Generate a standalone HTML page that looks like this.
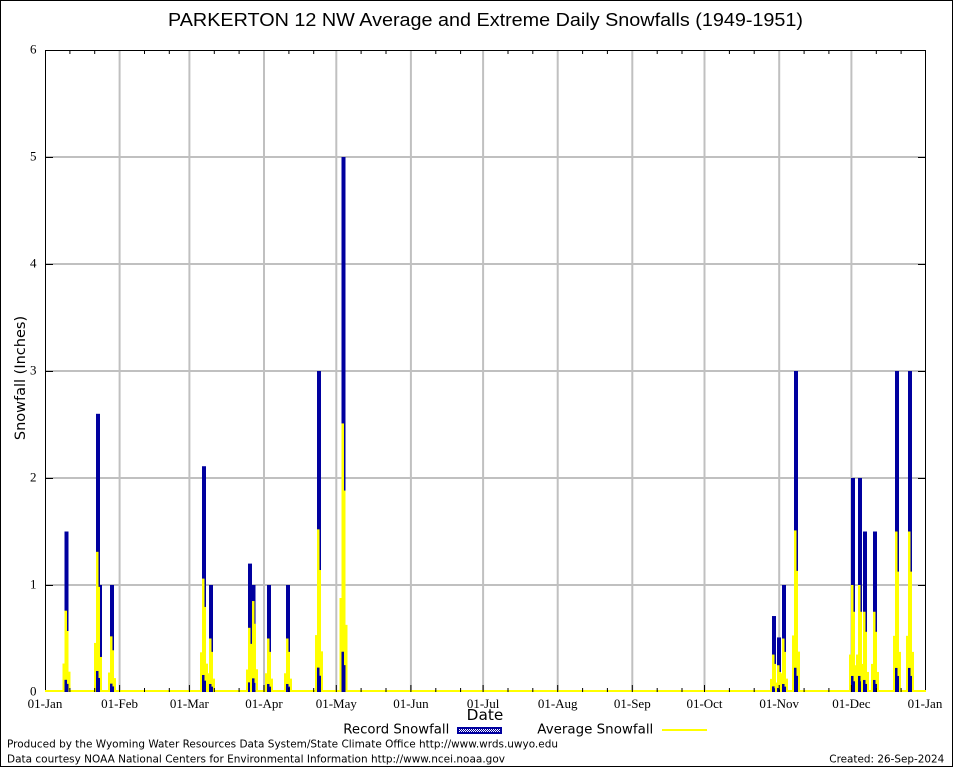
<!DOCTYPE html>
<html>
<head>
<meta charset="utf-8">
<style>
html,body{margin:0;padding:0;background:#fff;}
svg{display:block;}
.tk{font-family:"Liberation Serif","DejaVu Serif",serif;font-size:13px;fill:#000;}
.sn{font-family:"DejaVu Sans","Liberation Sans",sans-serif;fill:#000;}
</style>
</head>
<body>
<svg width="954" height="768" viewBox="0 0 954 768" xmlns="http://www.w3.org/2000/svg">
<defs>
  <pattern id="chk" width="2" height="2" patternUnits="userSpaceOnUse">
    <rect width="2" height="2" fill="#00009f"/>
    <rect width="1" height="1" fill="#fff"/>
    <rect x="1" y="1" width="1" height="1" fill="#fff"/>
  </pattern>
  <g id="yl">
    <rect x="-2" y="0" width="2" height="0.35"/>
    <rect x="0" y="0.15" width="2.5" height="0.85"/>
    <rect x="2.5" y="0.1" width="1.5" height="0.65"/>
    <rect x="4" y="0" width="2" height="0.25"/>
  </g>
</defs>

<rect x="0" y="0" width="954" height="768" fill="#fff"/>
<rect x="0.5" y="0.5" width="952" height="766" fill="none" stroke="#000" stroke-width="1"/>

<!-- title -->
<text x="168" y="26" font-family="Liberation Sans, Arial, sans-serif" font-size="18" textLength="635" lengthAdjust="spacingAndGlyphs">PARKERTON 12 NW Average and Extreme Daily Snowfalls (1949-1951)</text>

<!-- gridlines -->
<g fill="#c0c0c0">
  <rect x="118.6" y="50" width="2" height="642"/>
  <rect x="188.4" y="50" width="2" height="642"/>
  <rect x="263.0" y="50" width="2" height="642"/>
  <rect x="335.3" y="50" width="2" height="642"/>
  <rect x="409.9" y="50" width="2" height="642"/>
  <rect x="482.1" y="50" width="2" height="642"/>
  <rect x="556.7" y="50" width="2" height="642"/>
  <rect x="631.3" y="50" width="2" height="642"/>
  <rect x="703.5" y="50" width="2" height="642"/>
  <rect x="778.2" y="50" width="2" height="642"/>
  <rect x="850.4" y="50" width="2" height="642"/>
  <rect x="45" y="584" width="881" height="2"/>
  <rect x="45" y="477" width="881" height="2"/>
  <rect x="45" y="370" width="881" height="2"/>
  <rect x="45" y="263" width="881" height="2"/>
  <rect x="45" y="156" width="881" height="2"/>
</g>

<!-- frame -->
<rect x="45.5" y="50.5" width="880" height="641" fill="none" stroke="#000" stroke-width="1"/>

<!-- yellow zero baseline -->
<rect x="45" y="690" width="881" height="2" fill="#ff0"/>

<!-- bars -->
<g>
  <g transform="translate(64.5,692) scale(1,-107)"><rect width="4" height="1.5" fill="#00009f"/><use href="#yl" transform="scale(1,0.76)" fill="#ff0"/></g>
  <g transform="translate(96,692) scale(1,-107)"><rect width="4" height="2.6" fill="#00009f"/><rect x="4" width="2" height="1.0" fill="#00009f"/><use href="#yl" transform="scale(1,1.31)" fill="#ff0"/></g>
  <g transform="translate(110,692) scale(1,-107)"><rect width="4" height="1.0" fill="#00009f"/><use href="#yl" transform="scale(1,0.52)" fill="#ff0"/></g>
  <g transform="translate(202,692) scale(1,-107)"><rect width="4" height="2.11" fill="#00009f"/><use href="#yl" transform="scale(1,1.06)" fill="#ff0"/></g>
  <g transform="translate(209,692) scale(1,-107)"><rect width="4" height="1.0" fill="#00009f"/><use href="#yl" transform="scale(1,0.5)" fill="#ff0"/></g>
  <g transform="translate(248,692) scale(1,-107)"><rect width="4" height="1.2" fill="#00009f"/><use href="#yl" transform="scale(1,0.6)" fill="#ff0"/></g>
  <g transform="translate(252,692) scale(1,-107)"><rect width="3.5" height="1.0" fill="#00009f"/><use href="#yl" transform="scale(1,0.85)" fill="#ff0"/></g>
  <g transform="translate(267,692) scale(1,-107)"><rect width="4" height="1.0" fill="#00009f"/><use href="#yl" transform="scale(1,0.5)" fill="#ff0"/></g>
  <g transform="translate(286,692) scale(1,-107)"><rect width="4" height="1.0" fill="#00009f"/><use href="#yl" transform="scale(1,0.5)" fill="#ff0"/></g>
  <g transform="translate(317,692) scale(1,-107)"><rect width="4" height="3.0" fill="#00009f"/><use href="#yl" transform="scale(1,1.52)" fill="#ff0"/></g>
  <g transform="translate(341.5,692) scale(1,-107)"><rect width="4" height="5.0" fill="#00009f"/><use href="#yl" transform="scale(1,2.51)" fill="#ff0"/></g>
  <g transform="translate(772,692) scale(1,-107)"><rect width="4" height="0.71" fill="#00009f"/><use href="#yl" transform="scale(1,0.35)" fill="#ff0"/></g>
  <g transform="translate(777,692) scale(1,-107)"><rect width="4" height="0.51" fill="#00009f"/><use href="#yl" transform="scale(1,0.25)" fill="#ff0"/></g>
  <g transform="translate(782,692) scale(1,-107)"><rect width="4" height="1.0" fill="#00009f"/><use href="#yl" transform="scale(1,0.5)" fill="#ff0"/></g>
  <g transform="translate(794,692) scale(1,-107)"><rect width="4" height="3.0" fill="#00009f"/><use href="#yl" transform="scale(1,1.51)" fill="#ff0"/></g>
  <g transform="translate(851,692) scale(1,-107)"><rect width="4" height="2.0" fill="#00009f"/><use href="#yl" transform="scale(1,1.0)" fill="#ff0"/></g>
  <g transform="translate(858,692) scale(1,-107)"><rect width="4" height="2.0" fill="#00009f"/><use href="#yl" transform="scale(1,1.0)" fill="#ff0"/></g>
  <g transform="translate(863,692) scale(1,-107)"><rect width="4" height="1.5" fill="#00009f"/><use href="#yl" transform="scale(1,0.75)" fill="#ff0"/></g>
  <g transform="translate(873,692) scale(1,-107)"><rect width="4" height="1.5" fill="#00009f"/><use href="#yl" transform="scale(1,0.75)" fill="#ff0"/></g>
  <g transform="translate(895,692) scale(1,-107)"><rect width="4" height="3.0" fill="#00009f"/><use href="#yl" transform="scale(1,1.5)" fill="#ff0"/></g>
  <g transform="translate(908,692) scale(1,-107)"><rect width="4" height="3.0" fill="#00009f"/><use href="#yl" transform="scale(1,1.5)" fill="#ff0"/></g>
</g>

<!-- ticks -->
<g stroke="#000" stroke-width="1">
  <path d="M45 585.5H53M45 478.5H53M45 371.5H53M45 264.5H53M45 157.5H53"/>
  <path d="M918 585.5H926M918 478.5H926M918 371.5H926M918 264.5H926M918 157.5H926"/>
  <path d="M119.6 692V685M189.4 692V685M264 692V685M336.3 692V685M410.9 692V685M483.1 692V685M557.7 692V685M632.3 692V685M704.5 692V685M779.2 692V685M851.4 692V685"/>
  <path d="M69.9 692V688M94.7 692V688M144.5 692V688M169.3 692V688M214.3 692V688M239.1 692V688M288.9 692V688M313.7 692V688M361.1 692V688M386 692V688M435.8 692V688M460.6 692V688M508 692V688M532.8 692V688M582.6 692V688M607.4 692V688M657.2 692V688M682 692V688M729.4 692V688M754.2 692V688M804.1 692V688M828.9 692V688M876.3 692V688M901.1 692V688"/>
  <path d="M69.9 50V54M94.7 50V54M144.5 50V54M169.3 50V54M214.3 50V54M239.1 50V54M288.9 50V54M313.7 50V54M361.1 50V54M386 50V54M435.8 50V54M460.6 50V54M508 50V54M532.8 50V54M582.6 50V54M607.4 50V54M657.2 50V54M682 50V54M729.4 50V54M754.2 50V54M804.1 50V54M828.9 50V54M876.3 50V54M901.1 50V54"/>
</g>

<!-- y tick labels -->
<g class="tk" text-anchor="end">
  <text x="36.5" y="695.5">0</text>
  <text x="36.5" y="588.5">1</text>
  <text x="36.5" y="481.5">2</text>
  <text x="36.5" y="374.5">3</text>
  <text x="36.5" y="267.5">4</text>
  <text x="36.5" y="160.5">5</text>
  <text x="36.5" y="53.5">6</text>
</g>

<!-- x tick labels -->
<g class="tk" text-anchor="middle">
  <text x="45" y="708">01-Jan</text>
  <text x="119.6" y="708">01-Feb</text>
  <text x="189.4" y="708">01-Mar</text>
  <text x="264" y="708">01-Apr</text>
  <text x="336.3" y="708">01-May</text>
  <text x="410.9" y="708">01-Jun</text>
  <text x="483.1" y="708">01-Jul</text>
  <text x="557.7" y="708">01-Aug</text>
  <text x="632.3" y="708">01-Sep</text>
  <text x="704.5" y="708">01-Oct</text>
  <text x="779.2" y="708">01-Nov</text>
  <text x="851.4" y="708">01-Dec</text>
  <text x="925" y="708">01-Jan</text>
</g>

<!-- axis labels -->
<text class="sn" x="466.7" y="720" font-size="15" textLength="36.6" lengthAdjust="spacingAndGlyphs">Date</text>
<text class="sn" transform="translate(25,378) rotate(-90)" text-anchor="middle" font-size="14.5">Snowfall (Inches)</text>

<!-- legend -->
<text class="sn" x="343.3" y="733.5" font-size="13" textLength="106" lengthAdjust="spacingAndGlyphs">Record Snowfall</text>
<rect x="457" y="727" width="45" height="7" fill="#00009f"/>
<rect x="459" y="729" width="41" height="3" fill="url(#chk)"/>
<text class="sn" x="537.3" y="733.5" font-size="13" textLength="116" lengthAdjust="spacingAndGlyphs">Average Snowfall</text>
<rect x="662" y="729" width="45" height="2" fill="#ff0"/>

<!-- footer -->
<text class="sn" x="7" y="747.5" font-size="11" textLength="551" lengthAdjust="spacingAndGlyphs">Produced by the Wyoming Water Resources Data System/State Climate Office http://www.wrds.uwyo.edu</text>
<text class="sn" x="7" y="762.7" font-size="11" textLength="498" lengthAdjust="spacingAndGlyphs">Data courtesy NOAA National Centers for Environmental Information http://www.ncei.noaa.gov</text>
<text class="sn" x="829.3" y="762.7" font-size="11" textLength="115" lengthAdjust="spacingAndGlyphs">Created: 26-Sep-2024</text>
</svg>
</body>
</html>
